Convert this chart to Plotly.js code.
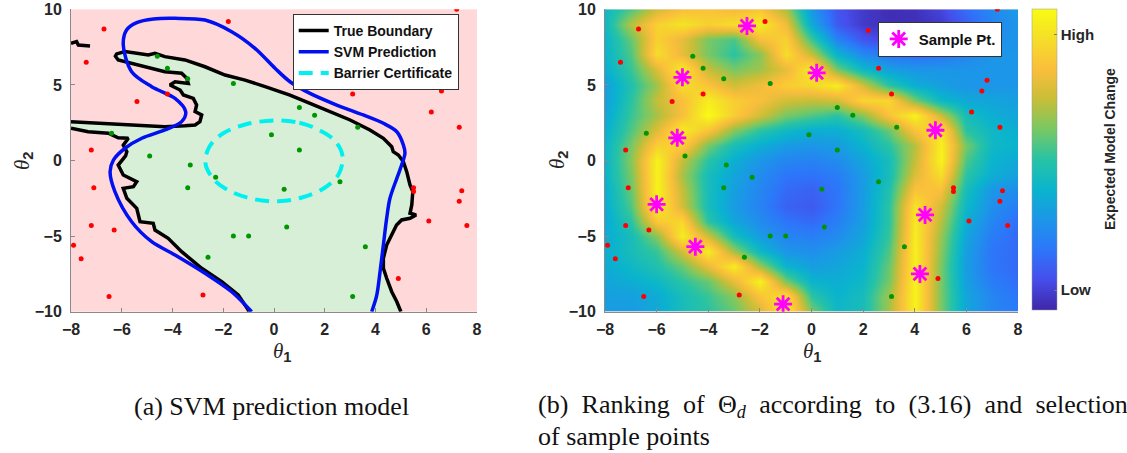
<!DOCTYPE html>
<html>
<head>
<meta charset="utf-8">
<script src="https://cdn.plot.ly/plotly-3.0.1.min.js"></script>
<style>
  html, body { margin: 0; padding: 0; background: #ffffff; }
  #chart { width: 1127px; height: 453px; }
</style>
</head>
<body>
<div id="chart"></div>
<script>
// ---- Sampled parameter points (theta1, theta2) ----
const unsafeTheta1 = [7.2, -1.8, -6.7, 2.2, -7.4, 2.6, 6.8, 6.6, -4.2, 3.1, -5.4, 6.2, 7.3, -7.2, -7.1, 5.5, 5.5, 7.4, 7.3, 6.1, -7.2, -6.3, 7.6, -7.9, -7.6, 4.9, -6.5, -2.8];
const unsafeTheta2 = [10, 9.2, 8.7, 8.6, 6.5, 6.1, 5.3, 4.6, 4.4, 4.4, 3.9, 3.2, 2.2, 0.7, -1.8, -1.8, -2.05, -2.0, -2.7, -4.0, -4.3, -4.6, -4.3, -5.6, -6.5, -7.8, -9.0, -8.9];
const safeTheta1 = [-4.6, -4.2, -3.4, -1.6, 1.0, 1.6, 3.3, -6.4, -0.1, 1.0, -4.9, -3.3, -2.3, 2.6, -3.4, 0.4, 0.5, -1.6, -1.0, 3.6, -2.6, 3.1];
const safeTheta2 = [6.9, 6.1, 5.4, 5.1, 3.5, 3.0, 2.2, 1.8, 1.7, 0.7, 0.3, -0.3, -1.1, -1.4, -1.8, -1.9, -4.4, -5.0, -5.0, -5.7, -6.4, -9.0];

// ---- Newly selected sample points ----
const sampleTheta1 = [-2.5, 0.2, -5.0, 4.8, -5.2, -6.0, 4.4, -4.5, 4.2, -1.1];
const sampleTheta2 = [8.9, 5.8, 5.5, 2.0, 1.5, -2.9, -3.6, -5.7, -7.5, -9.5];

// ---- True boundary: lower-left piece (bottom edge -> left edge) ----
const boundaryLowT1 = [-1.0, -1.01, -1.41, -2.06, -2.85, -3.64, -4.17, -4.69, -4.76, -5.28, -5.41, -5.80, -5.94, -5.54, -5.41, -5.94, -6.14, -5.85, -5.80, -5.94, -5.74, -6.14, -6.53, -7.32, -8.0];
const boundaryLowT2 = [-10, -9.89, -8.9, -8.02, -7.13, -6.03, -5.15, -4.6, -4.15, -4.05, -3.16, -2.5, -1.84, -1.73, -1.40, -0.96, -0.30, 0.3, 0.58, 1.02, 1.47, 1.5, 1.80, 1.9, 2.13];
// ---- True boundary: main piece (left edge -> around the top -> bottom edge) ----
const boundaryHighT1 = [-8.0, -6.92, -5.61, -4.30, -3.51, -3.11, -2.92, -2.85, -3.11, -3.05, -3.18, -3.57, -3.70, -4.1, -3.90, -3.38, -3.44, -3.64, -4.30, -4.82, -5.61, -6.14, -6.25, -6.2, -5.87, -4.95, -4.69, -4.3, -3.51, -2.72, -1.93, -1.14, -0.35, 0.04, 0.63, 1.42, 2.21, 3.0, 3.78, 4.31, 4.64, 4.70, 4.90, 5.10, 5.23, 5.36, 5.47, 5.43, 5.36, 5.6, 5.36, 5.03, 4.83, 4.64, 4.44, 4.31, 4.31, 4.44, 4.64, 4.84, 5.0];
const boundaryHighT2 = [2.57, 2.46, 2.35, 2.24, 2.30, 2.35, 2.57, 3.01, 3.23, 3.67, 4.11, 4.33, 4.66, 4.99, 5.21, 5.1, 5.44, 5.77, 5.87, 6.1, 6.43, 6.65, 6.9, 7.05, 7.2, 6.98, 7.09, 6.87, 6.65, 6.2, 5.65, 5.32, 4.88, 4.66, 4.33, 3.78, 3.23, 2.68, 2.02, 1.47, 0.91, 0.58, 0.36, -0.08, -0.74, -1.62, -2.06, -2.94, -3.49, -3.6, -3.82, -3.93, -4.27, -4.93, -5.59, -6.47, -7.13, -7.79, -8.68, -9.34, -10];
// ---- True boundary: small isolated piece at the top-left edge ----
const boundaryIsleT1 = [-8.0, -7.78, -7.71, -7.25];
const boundaryIsleT2 = [7.75, 7.86, 7.64, 7.57];

// ---- SVM decision boundary ----
const svmT1 = [-0.88, -1.67, -2.72, -3.90, -4.82, -5.61, -6.27, -6.46, -6.33, -5.87, -5.21, -4.30, -3.64, -3.48, -3.90, -4.82, -5.61, -5.94, -5.81, -5.41, -4.75, -3.90, -2.72, -1.67, -0.75, 0.04, 0.63, 1.42, 2.47, 3.52, 4.31, 4.84, 5.10, 5.16, 5.03, 4.84, 4.57, 4.44, 4.31, 4.18, 4.05, 3.85];
const svmT2 = [-10, -8.68, -7.46, -6.25, -5.37, -4.05, -2.06, -0.74, 0.03, 0.81, 1.47, 2.02, 2.57, 3.23, 4.11, 4.88, 5.87, 7.64, 8.63, 9.12, 9.36, 9.40, 9.29, 8.52, 7.42, 6.1, 5.21, 4.44, 3.67, 3.01, 2.46, 1.90, 1.02, 0.48, -0.30, -1.18, -2.5, -3.82, -5.59, -7.35, -8.9, -10];

// ---- Barrier certificate level set ----
const barrierT1 = [0, 1.0, 1.8, 2.4, 2.7, 2.55, 2.0, 1.1, 0.2, -0.8, -1.7, -2.35, -2.7, -2.55, -2.0, -1.1, 0];
const barrierT2 = [2.65, 2.5, 2.0, 1.3, 0.3, -0.9, -1.8, -2.45, -2.7, -2.55, -2.05, -1.3, -0.2, 0.9, 1.8, 2.4, 2.65];

// ---- Expected model change on a unit grid (rows: theta2 = -10..10, cols: theta1 = -8..8) ----
const gridTheta1 = [-8, -7, -6, -5, -4, -3, -2, -1, 0, 1, 2, 3, 4, 5, 6, 7, 8];
const gridTheta2 = [-10, -9, -8, -7, -6, -5, -4, -3, -2, -1, 0, 1, 2, 3, 4, 5, 6, 7, 8, 9, 10];
const modelChange = [
  [0.32, 0.32, 0.36, 0.45, 0.50, 0.58, 0.72, 0.97, 0.60, 0.42, 0.45, 0.65, 0.97, 0.60, 0.35, 0.25, 0.22],
  [0.33, 0.33, 0.37, 0.45, 0.52, 0.62, 0.82, 0.92, 0.50, 0.40, 0.45, 0.65, 0.97, 0.60, 0.35, 0.25, 0.20],
  [0.35, 0.38, 0.42, 0.50, 0.58, 0.76, 0.97, 0.60, 0.40, 0.38, 0.42, 0.60, 0.97, 0.60, 0.33, 0.22, 0.18],
  [0.37, 0.42, 0.48, 0.58, 0.76, 0.95, 0.65, 0.40, 0.33, 0.35, 0.40, 0.58, 0.96, 0.60, 0.32, 0.20, 0.17],
  [0.38, 0.45, 0.52, 0.72, 0.95, 0.65, 0.42, 0.30, 0.28, 0.32, 0.38, 0.55, 0.96, 0.62, 0.33, 0.20, 0.17],
  [0.37, 0.45, 0.62, 0.95, 0.72, 0.45, 0.32, 0.25, 0.23, 0.27, 0.35, 0.52, 0.95, 0.64, 0.35, 0.22, 0.17],
  [0.36, 0.50, 0.84, 0.88, 0.50, 0.35, 0.27, 0.20, 0.17, 0.23, 0.33, 0.50, 0.94, 0.68, 0.38, 0.25, 0.18],
  [0.37, 0.55, 0.97, 0.72, 0.45, 0.32, 0.24, 0.15, 0.13, 0.20, 0.32, 0.50, 0.92, 0.72, 0.42, 0.28, 0.22],
  [0.38, 0.58, 0.97, 0.70, 0.45, 0.33, 0.25, 0.17, 0.15, 0.20, 0.32, 0.48, 0.82, 0.80, 0.45, 0.30, 0.27],
  [0.40, 0.60, 0.97, 0.66, 0.45, 0.35, 0.27, 0.20, 0.19, 0.22, 0.32, 0.45, 0.74, 0.90, 0.50, 0.38, 0.33],
  [0.40, 0.62, 0.97, 0.70, 0.50, 0.38, 0.30, 0.25, 0.24, 0.27, 0.35, 0.45, 0.70, 0.97, 0.55, 0.40, 0.36],
  [0.40, 0.60, 0.86, 0.86, 0.60, 0.46, 0.38, 0.32, 0.30, 0.32, 0.40, 0.50, 0.68, 0.96, 0.60, 0.42, 0.40],
  [0.38, 0.55, 0.74, 0.95, 0.82, 0.62, 0.50, 0.43, 0.38, 0.38, 0.45, 0.58, 0.82, 0.93, 0.50, 0.42, 0.38],
  [0.35, 0.52, 0.66, 0.80, 1.00, 0.85, 0.72, 0.60, 0.55, 0.50, 0.62, 0.82, 0.97, 0.70, 0.45, 0.38, 0.35],
  [0.33, 0.50, 0.70, 0.80, 0.95, 0.85, 0.80, 0.72, 0.70, 0.72, 0.88, 0.88, 0.60, 0.42, 0.36, 0.35, 0.33],
  [0.33, 0.48, 0.65, 0.90, 0.82, 0.72, 0.78, 0.85, 0.88, 0.95, 0.72, 0.50, 0.38, 0.33, 0.30, 0.30, 0.30],
  [0.38, 0.52, 0.74, 0.95, 0.70, 0.60, 0.65, 0.76, 0.95, 0.60, 0.42, 0.33, 0.30, 0.30, 0.30, 0.30, 0.30],
  [0.40, 0.55, 0.90, 0.76, 0.60, 0.50, 0.62, 0.90, 0.70, 0.40, 0.26, 0.20, 0.18, 0.20, 0.25, 0.30, 0.30],
  [0.40, 0.58, 0.86, 0.76, 0.60, 0.54, 0.80, 0.86, 0.52, 0.24, 0.12, 0.07, 0.06, 0.10, 0.18, 0.27, 0.30],
  [0.42, 0.68, 0.86, 0.92, 0.86, 0.90, 0.95, 0.78, 0.36, 0.13, 0.05, 0.02, 0.02, 0.05, 0.14, 0.24, 0.30],
  [0.42, 0.55, 0.72, 0.80, 0.82, 0.78, 0.82, 0.66, 0.30, 0.12, 0.05, 0.02, 0.03, 0.08, 0.18, 0.26, 0.32]
];

// ---- Axis ticks and colorbar labels ----
const theta1Ticks = [-8, -6, -4, -2, 0, 2, 4, 6, 8];
const theta2Ticks = [-10, -5, 0, 5, 10];
const colorbarTickVals = [0.066, 0.914];
const colorbarTickText = ['Low', 'High'];

// parula-like colour map
const parula = [
  [0.0, 'rgb(62,38,168)'], [0.1, 'rgb(70,78,235)'], [0.2, 'rgb(45,118,250)'],
  [0.3, 'rgb(28,150,232)'], [0.4, 'rgb(10,180,205)'], [0.5, 'rgb(40,195,165)'],
  [0.6, 'rgb(120,200,100)'], [0.7, 'rgb(200,190,55)'], [0.8, 'rgb(250,190,60)'],
  [0.9, 'rgb(245,222,40)'], [1.0, 'rgb(249,251,20)']
];

const W = 1127, H = 453;
const px = v => v / W;          // horizontal pixel -> paper
const py = v => (H - v) / H;    // vertical pixel (from top) -> paper

const sansBold = 'Liberation Sans, Arial, sans-serif';
const tickFont = { family: sansBold, size: 16, weight: 'bold', color: '#262626' };
const legendFont = { family: sansBold, size: 14, weight: 'bold', color: '#111111' };

function axis(extra) {
  return Object.assign({
    showgrid: false, zeroline: false, showline: true, linecolor: '#8a8a8a', linewidth: 1,
    ticks: 'inside', ticklen: 4, tickcolor: '#8a8a8a', tickwidth: 1, tickfont: tickFont,
    fixedrange: true
  }, extra);
}

// black boundary pieces joined by gaps
const boundaryLineT1 = boundaryLowT1.concat([null], boundaryHighT1, [null], boundaryIsleT1);
const boundaryLineT2 = boundaryLowT2.concat([null], boundaryHighT2, [null], boundaryIsleT2);

const traces = [
  // safe region (inside the true boundary)
  { type: 'scatter', mode: 'lines', x: boundaryLowT1.concat(boundaryHighT1), y: boundaryLowT2.concat(boundaryHighT2),
    fill: 'toself', fillcolor: 'rgb(216,239,215)', line: { width: 0 }, hoverinfo: 'skip', showlegend: false, xaxis: 'x', yaxis: 'y' },
  { type: 'scatter', mode: 'lines', name: 'True Boundary', x: boundaryLineT1, y: boundaryLineT2,
    line: { color: '#000000', width: 3.5 }, connectgaps: false, xaxis: 'x', yaxis: 'y' },
  { type: 'scatter', mode: 'lines', name: 'SVM Prediction', x: svmT1, y: svmT2,
    line: { color: '#0010F0', width: 3.5, shape: 'spline', smoothing: 0.9 }, xaxis: 'x', yaxis: 'y' },
  { type: 'scatter', mode: 'lines', name: 'Barrier Certificate', x: barrierT1, y: barrierT2,
    line: { color: '#00F0F0', width: 4, dash: '14px,8px', shape: 'spline', smoothing: 1 }, xaxis: 'x', yaxis: 'y' },
  { type: 'scatter', mode: 'markers', x: unsafeTheta1, y: unsafeTheta2, marker: { color: '#FF0000', size: 5 },
    showlegend: false, xaxis: 'x', yaxis: 'y' },
  { type: 'scatter', mode: 'markers', x: safeTheta1, y: safeTheta2, marker: { color: '#009600', size: 5 },
    showlegend: false, xaxis: 'x', yaxis: 'y' },

  // expected model change map
  { type: 'heatmap', x: gridTheta1, y: gridTheta2, z: modelChange, zmin: 0, zmax: 1, zsmooth: 'best',
    colorscale: parula, xaxis: 'x2', yaxis: 'y2', hoverinfo: 'skip',
    colorbar: {
      x: px(1032), xanchor: 'left', y: py(9), yanchor: 'top', len: 301 / H, lenmode: 'fraction',
      thickness: 25, thicknessmode: 'pixels', xpad: 0, ypad: 0, outlinewidth: 0.5, outlinecolor: '#9a9a9a',
      tickvals: colorbarTickVals, ticktext: colorbarTickText, ticks: 'inside', ticklen: 3, tickcolor: '#777777',
      tickfont: { family: sansBold, size: 15, weight: 'bold', color: '#262626' }
    } },
  { type: 'scatter', mode: 'markers', x: unsafeTheta1, y: unsafeTheta2, marker: { color: '#FF0000', size: 5 },
    showlegend: false, xaxis: 'x2', yaxis: 'y2' },
  { type: 'scatter', mode: 'markers', x: safeTheta1, y: safeTheta2, marker: { color: '#009600', size: 5 },
    showlegend: false, xaxis: 'x2', yaxis: 'y2' },
  { type: 'scatter', mode: 'markers', name: 'Sample Pt.', x: sampleTheta1, y: sampleTheta2,
    marker: { symbol: 'asterisk-open', size: 15, color: '#FF00FF', line: { color: '#FF00FF', width: 2.8 } },
    legend: 'legend2', xaxis: 'x2', yaxis: 'y2' }
];

const rowDomain = [py(311.7), py(9.3)];
const thetaFont = { family: 'Liberation Serif, serif', size: 21, color: '#262626' };
const sub1 = '<sub><span style="font-family:Liberation Sans;font-weight:bold">1</span></sub>';
const sub2 = '<sub><span style="font-family:Liberation Sans;font-weight:bold">2</span></sub>';
const captionFont = { family: 'Liberation Serif, serif', size: 26, color: '#111111' };

function note(xPix, yPix, text, font, extra) {
  return Object.assign({ xref: 'paper', yref: 'paper', x: px(xPix), y: py(yPix), text: text,
    showarrow: false, font: font, xanchor: 'center', yanchor: 'middle' }, extra || {});
}

// first caption line of (b) is justified, so its words sit further apart
const captionB1 = '<span style="word-spacing:6.8px">(b) Ranking of Θ<sub><i>d</i></sub> according to (3.16) and selection</span>';

const layout = {
  width: W, height: H, margin: { l: 0, r: 0, t: 0, b: 0 },
  paper_bgcolor: '#ffffff', plot_bgcolor: 'rgb(255,217,217)',
  xaxis: axis({ domain: [px(71), px(477)], range: [-8, 8], tickvals: theta1Ticks, anchor: 'y', ticklabelstandoff: 3 }),
  yaxis: axis({ domain: rowDomain, range: [-10, 10], tickvals: theta2Ticks, anchor: 'x', ticklabelstandoff: 5 }),
  xaxis2: axis({ domain: [px(605), px(1018)], range: [-8, 8], tickvals: theta1Ticks, anchor: 'y2', ticklabelstandoff: 3 }),
  yaxis2: axis({ domain: rowDomain, range: [-10, 10], tickvals: theta2Ticks, anchor: 'x2', ticklabelstandoff: 5 }),
  legend: { x: px(292.7), y: py(14), xanchor: 'left', yanchor: 'top', bgcolor: '#ffffff',
            bordercolor: '#333333', borderwidth: 1, font: legendFont, tracegroupgap: 0 },
  legend2: { x: px(877.7), y: py(21.7), xanchor: 'left', yanchor: 'top', bgcolor: '#ffffff',
             bordercolor: '#333333', borderwidth: 1, font: { family: sansBold, size: 15, weight: 'bold', color: '#111111' } },
  annotations: [
    note(282, 352, '<i>θ</i>' + sub1, thetaFont),
    note(23, 160, '<i>θ</i>' + sub2, thetaFont, { textangle: -90 }),
    note(812, 352, '<i>θ</i>' + sub1, thetaFont),
    note(558, 160, '<i>θ</i>' + sub2, thetaFont, { textangle: -90 }),
    note(1110, 149, 'Expected Model Change', { family: sansBold, size: 14, weight: 'bold', color: '#262626' }, { textangle: -90 }),
    note(271, 406, '(a) SVM prediction model', captionFont),
    note(536, 406, captionB1, captionFont, { xanchor: 'left' }),
    note(536, 436, 'of sample points', captionFont, { xanchor: 'left' })
  ]
};

Plotly.newPlot('chart', traces, layout, { displayModeBar: false, staticPlot: true });
</script>
</body>
</html>
